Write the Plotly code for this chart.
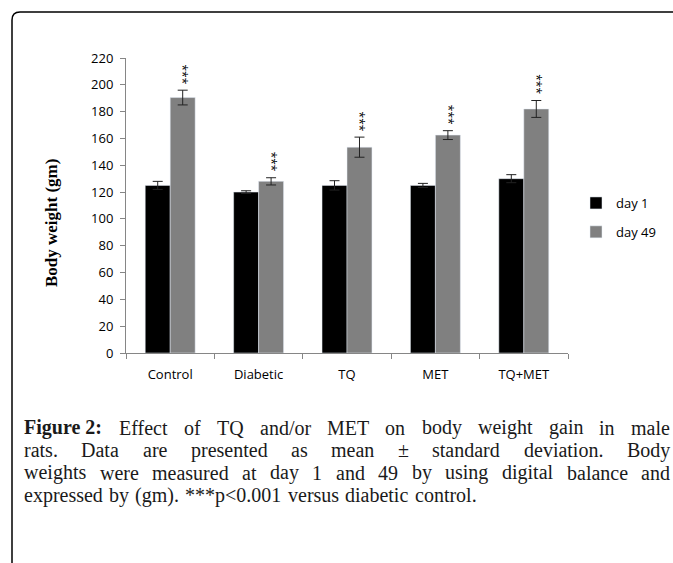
import plotly.graph_objects as go

categories = ["Control", "Diabetic", "TQ", "MET", "TQ+MET"]
day1 = [125, 120, 125, 125, 130]
day1_err = [3, 1, 3.5, 1.5, 3]
day49 = [190.5, 128, 153.5, 162.5, 182]
day49_err = [5.5, 2.7, 7.5, 3.3, 6.3]
sig_labels = ["***", "***", "***", "***", "***"]

caption_lines = [
    ["<b>Figure 2:</b>", "Effect", "of", "TQ", "and/or", "MET", "on", "body", "weight", "gain", "in", "male"],
    ["rats.", "Data", "are", "presented", "as", "mean", "±", "standard", "deviation.", "Body"],
    ["weights", "were", "measured", "at", "day", "1", "and", "49", "by", "using", "digital", "balance", "and"],
]
caption_last = ["expressed", "by", "(gm).", "***p&lt;0.001", "versus", "diabetic", "control."]

W, H = 673, 563
L, R, T, B = 126, 105, 58, 210

def px(x):
    return (x - L) / (W - L - R)

def py(y):
    return (H - B - y) / (H - B - T)

# Times / Liberation Serif advance widths (per 1000 em) for laying out the justified caption
REG = {**{c: 500 for c in "bdghknopquvxy0123456789"},
       "a": 444, "c": 444, "e": 444, "z": 444, "f": 333, "r": 333, "i": 278, "j": 278,
       "l": 278, "t": 278, "m": 778, "s": 389, "w": 722,
       "B": 667, "D": 722, "E": 611, "F": 556, "M": 889, "Q": 722, "T": 611,
       " ": 250, ".": 250, ":": 278, "/": 278, "±": 564, "(": 333, ")": 333,
       "*": 500, "<": 564}
BOLD = {"F": 611, "i": 278, "g": 500, "u": 556, "r": 444, "e": 444, " ": 250, "2": 500, ":": 333}

CAP_SIZE = 20

def word_width(w):
    if w.startswith("<b>"):
        t = w[3:-4]
        return sum(BOLD.get(c, 500) for c in t) * CAP_SIZE / 1000
    w = w.replace("&lt;", "<")
    return sum(REG.get(c, 500) for c in w) * CAP_SIZE / 1000

fig = go.Figure()
fig.add_trace(go.Bar(
    x=categories, y=day1, name="day 1", marker_color="#000000",
    error_y=dict(type="data", array=day1_err, color="#222222", thickness=1, width=5),
    legendgroup="a",
))
fig.add_trace(go.Bar(
    x=categories, y=day49, name="day 49", marker_color="#808080",
    error_y=dict(type="data", array=day49_err, color="#222222", thickness=1, width=5),
    legendgroup="b",
))

annotations = []
for c, v, e, s in zip(categories, day49, day49_err, sig_labels):
    annotations.append(dict(
        x=c, y=v + e, xref="x", yref="y", text=s, showarrow=False,
        textangle=90, xshift=12.5, yshift=4, yanchor="bottom", xanchor="center",
        font=dict(family="Open Sans", size=12, color="#000000"),
    ))

annotations.append(dict(
    x=px(51), y=py(223), xref="paper", yref="paper", text="<b>Body weight (gm)</b>",
    textangle=-90, showarrow=False, xanchor="center", yanchor="middle",
    font=dict(family="Liberation Serif", size=17, color="#000000"),
))

cap_font = dict(family="Liberation Serif", size=CAP_SIZE, color="#1a1a1a")
left = 23
line_y = [427.5, 450, 472.5, 495]
line_end = [669, 669, 669, None]
for words, yy, right in zip(caption_lines + [caption_last], line_y, line_end):
    widths = [word_width(w) for w in words]
    if right is None:
        gap = 0.25 * CAP_SIZE * 1.25
    else:
        gap = (right - left - sum(widths)) / (len(words) - 1)
    x = left
    for w, wd in zip(words, widths):
        annotations.append(dict(x=px(x), y=py(yy), xref="paper", yref="paper", text=w,
                                showarrow=False, xanchor="left", yanchor="middle",
                                borderpad=0, font=cap_font))
        x += wd + gap

frame_path = (f"M {px(12)} {py(600)} L {px(12)} {py(20)} "
              f"Q {px(12)} {py(12)} {px(20)} {py(12)} L {px(720)} {py(12)}")

fig.update_layout(
    width=W, height=H,
    margin=dict(l=L, r=R, t=T, b=B),
    paper_bgcolor="white", plot_bgcolor="white",
    barmode="group", bargap=0.435, bargroupgap=0,
    font=dict(family="Open Sans", size=13, color="#000000"),
    showlegend=True,
    legend=dict(x=px(576), y=py(188), xanchor="left", yanchor="top",
                font=dict(family="Open Sans", size=13, color="#000000"),
                tracegroupgap=9, bgcolor="rgba(0,0,0,0)", itemwidth=30),
    annotations=annotations,
    shapes=[dict(type="path", path=frame_path, xref="paper", yref="paper",
                 line=dict(color="#000000", width=1.5))],
    xaxis=dict(
        range=[-0.5, 4.5], showline=True, linecolor="#868686", linewidth=1,
        ticks="outside", tickson="boundaries", ticklen=5, tickcolor="#868686",
        showgrid=False, tickfont=dict(family="Open Sans", size=13, color="#000000"),
        ticklabelstandoff=9,
    ),
    yaxis=dict(
        range=[0, 220], dtick=20, showline=True, linecolor="#868686", linewidth=1,
        ticks="outside", ticklen=5, tickcolor="#868686", showgrid=False, zeroline=False,
        tickfont=dict(family="Open Sans", size=13, color="#000000"), ticklabelstandoff=4,
    ),
)

fig.write_html("out.html")
